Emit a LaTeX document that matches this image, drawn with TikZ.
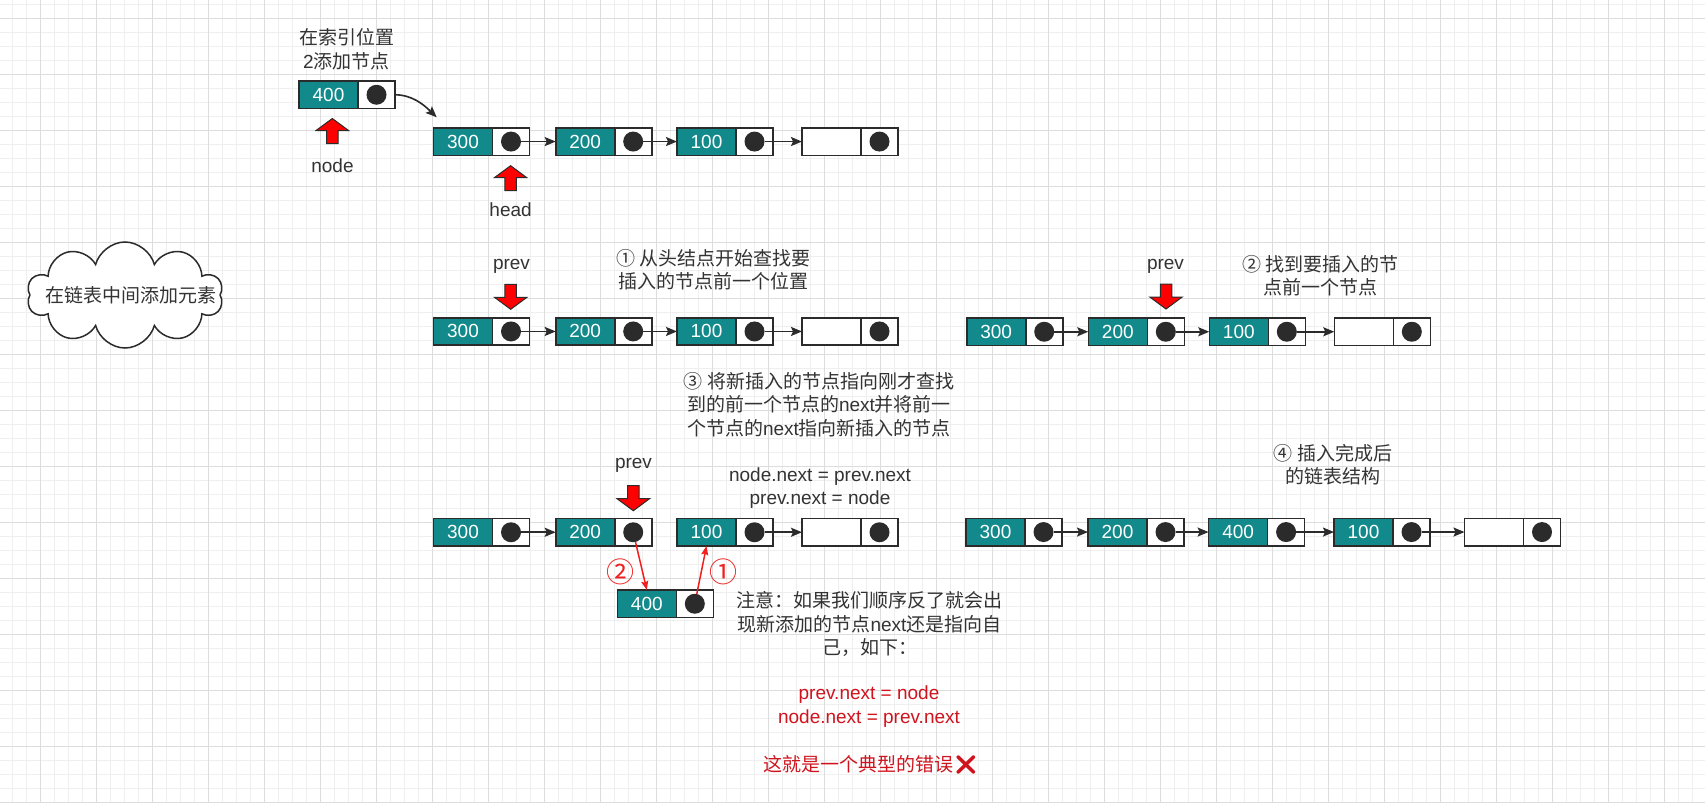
\documentclass[tikz,border=0pt]{standalone}
\usepackage{fontspec}
\setmainfont{Liberation Sans}
\newfontfamily\cjk{Noto Sans CJK SC}
\newfontfamily\emo{Noto Emoji}
\usetikzlibrary{arrows.meta,shapes.symbols,calc}
\definecolor{tealfill}{HTML}{12898A}
\definecolor{edgec}{HTML}{2B2B2B}
\definecolor{txtc}{HTML}{333333}
\definecolor{gmin}{HTML}{EFEFEF}
\definecolor{gmaj}{HTML}{DDDDDD}
\definecolor{rtxt}{HTML}{D0141E}
\definecolor{rline}{HTML}{F01E1E}
\newcommand\llnode[5][]{%
  \node[valbox,anchor=north west,#1] (#2v) at (#3,#4) {#5};
  \node[ptrbox,anchor=north west] (#2p) at (#2v.north east) {};
  \node[dotn] (#2d) at (#2p.center) {};}
\begin{document}
\begin{tikzpicture}[x=1pt,y=-1pt,
  valbox/.style={draw=edgec, line width=1.6pt, fill=tealfill, text=white, minimum width=59pt, minimum height=27.5pt, inner sep=0pt, outer sep=0pt, font=\fontsize{19}{22}\selectfont},
  emptybox/.style={fill=white},
  ptrbox/.style={draw=edgec, line width=1.6pt, fill=white, minimum width=37pt, minimum height=27.5pt, inner sep=0pt, outer sep=0pt},
  dotn/.style={circle, fill=edgec, minimum size=20pt, inner sep=0pt, outer sep=0pt},
  link/.style={draw=edgec, line width=1.6pt, -{Stealth[length=11pt,width=9pt,inset=2pt]}},
  redlink/.style={draw=rline, line width=1.5pt, -{Stealth[length=9pt,width=7pt,inset=1.5pt]}},
  lbl/.style={text=txtc, align=center, inner sep=0pt, font=\fontsize{19}{23.5}\selectfont},
  redlbl/.style={text=rtxt, align=center, inner sep=0pt, font=\fontsize{19}{23.5}\selectfont},
  circlbl/.style={text=rline, inner sep=0pt, font=\fontsize{28}{30}\selectfont},
  blockstyle/.style={fill=red, draw=edgec, line width=1pt, line join=miter},
  blockup/.pic={\path[blockstyle] (0,0) -- (16.25,12) -- (5.75,12) -- (5.75,25) -- (-5.75,25) -- (-5.75,12) -- (-16.25,12) -- cycle;},
  blockdown/.pic={\path[blockstyle] (0,0) -- (16.25,-12) -- (5.75,-12) -- (5.75,-25) -- (-5.75,-25) -- (-5.75,-12) -- (-16.25,-12) -- cycle;}
]
\useasboundingbox (0,0) rectangle (1705,803);
\fill[white] (0,0) rectangle (1705,803);
\begin{scope}
\clip (0,0) rectangle (1705,803);
\foreach \i in {0,...,122} {\draw[gmin, line width=1pt] ({-1.7+14*\i},0) -- ({-1.7+14*\i},803);}
\foreach \j in {0,...,57} {\draw[gmin, line width=1pt] (0,{4.3+14*\j}) -- (1705,{4.3+14*\j});}
\foreach \i in {0,...,29} {\draw[gmaj, line width=1pt] ({40.3+56*\i},0) -- ({40.3+56*\i},803);}
\foreach \j in {0,...,14} {\draw[gmaj, line width=1pt] (0,{18.3+56*\j}) -- (1705,{18.3+56*\j});}
\end{scope}

% cloud
\node[cloud, draw=edgec, line width=1.5pt, fill=white, cloud puffs=10, aspect=1.9, inner sep=0pt, minimum width=196pt, minimum height=106pt, lbl] (cl) at (125,295) {\makebox[0pt]{\hspace*{12pt}\cjk 在链表中间添加元素}};

% row 1
\node[lbl] (t1) at (346.5,49.2) {{\cjk 在索引位置}\\2{\cjk 添加节点}};
\llnode{a4}{299}{81}{400}
\llnode{a3}{433.5}{127.8}{300}
\llnode{a2}{555.7}{127.8}{200}
\llnode{a1}{677}{127.8}{100}
\llnode[emptybox]{ae}{802}{127.8}{}
\coordinate (c1) at (436.7,117.3);
\draw[link] (a4p.east) .. controls (412,95) and (423,104) .. (c1);
\draw[link] (a3d) -- (a2v.west);
\draw[link] (a2d) -- (a1v.west);
\draw[link] (a1d) -- (aev.west);
\pic at (332.3,118.5) {blockup};
\node[lbl] (tnode) at (332.5,165.5) {node};
\pic at (510.6,165.7) {blockup};
\node[lbl] (thead) at (510.6,209.5) {head};

% row 2 left
\node[lbl] (tp1) at (511.5,266) {prev};
\pic at (510.7,309.3) {blockdown};
\node[lbl] (s1) at (713.5,269.7) {{\cjk ① 从头结点开始查找要}\\{\cjk 插入的节点前一个位置}};
\llnode{b3}{433.5}{317.7}{300}
\llnode{b2}{555.7}{317.7}{200}
\llnode{b1}{677}{317.7}{100}
\llnode[emptybox]{be}{802}{317.7}{}
\draw[link] (b3d) -- (b2v.west);
\draw[link] (b2d) -- (b1v.west);
\draw[link] (b1d) -- (bev.west);

% row 2 right
\node[lbl] (tp2) at (1165.5,266) {prev};
\pic at (1166,309) {blockdown};
\node[lbl] (s2) at (1320.8,275.8) {{\cjk ② 找到要插入的节}\\{\cjk 点前一个节点}};
\llnode{r3}{966.7}{318}{300}
\llnode{r2}{1088.3}{318}{200}
\llnode{r1}{1209.3}{318}{100}
\llnode[emptybox]{re}{1334.3}{318}{}
\draw[link] (r3d) -- (r2v.west);
\draw[link] (r2d) -- (r1v.west);
\draw[link] (r1d) -- (rev.west);

% row 3 left
\node[lbl] (s3) at (819,404.3) {{\cjk ③ 将新插入的节点指向刚才查找}\\{\cjk 到的前一个节点的}next{\cjk 并将前一}\\{\cjk 个节点的}next{\cjk 指向新插入的节点}};
\node[lbl] (code1) at (820,488) {node.next = prev.next\\prev.next = node};
\node[lbl] (tp3) at (633.5,465) {prev};
\pic at (633.3,510.7) {blockdown};
\llnode{c3}{433.5}{518.5}{300}
\llnode{c2}{555.7}{518.5}{200}
\llnode{c1n}{677}{518.5}{100}
\llnode[emptybox]{ce}{802}{518.5}{}
\llnode{c4}{617.3}{590}{400}
\draw[link] (c3d) -- (c2v.west);
\draw[link] (c1nd) -- (cev.west);
\draw[redlink] (c2d) -- (c4v.north);
\draw[redlink] (c4d) -- (c1nv.south);
\node[circlbl] (m2) at (620,571.7) {\cjk ②};
\node[circlbl] (m1) at (723.3,571.7) {\cjk ①};
\node[lbl] (note) at (869.5,624.3) {{\cjk 注意：如果我们顺序反了就会出}\\{\cjk 现新添加的节点}next{\cjk 还是指向自}\\{\cjk 己，如下：}};
\node[redlbl] (code2) at (869,706.7) {prev.next = node\\node.next = prev.next};
\node[redlbl] (err) at (871,765) {{\cjk 这就是一个典型的错误}{\emo ❌}};

% row 3 right
\node[lbl] (s4) at (1333,464.7) {{\cjk ④ 插入完成后}\\{\cjk 的链表结构}};
\llnode{d3}{966}{518.3}{300}
\llnode{d2}{1088}{518.3}{200}
\llnode{d4}{1208.6}{518.3}{400}
\llnode{d1}{1334}{518.3}{100}
\llnode[emptybox]{de}{1464.5}{518.3}{}
\draw[link] (d3d) -- (d2v.west);
\draw[link] (d2d) -- (d4v.west);
\draw[link] (d4d) -- (d1v.west);
\draw[link] (d1d) -- (dev.west);
\end{tikzpicture}
\end{document}
